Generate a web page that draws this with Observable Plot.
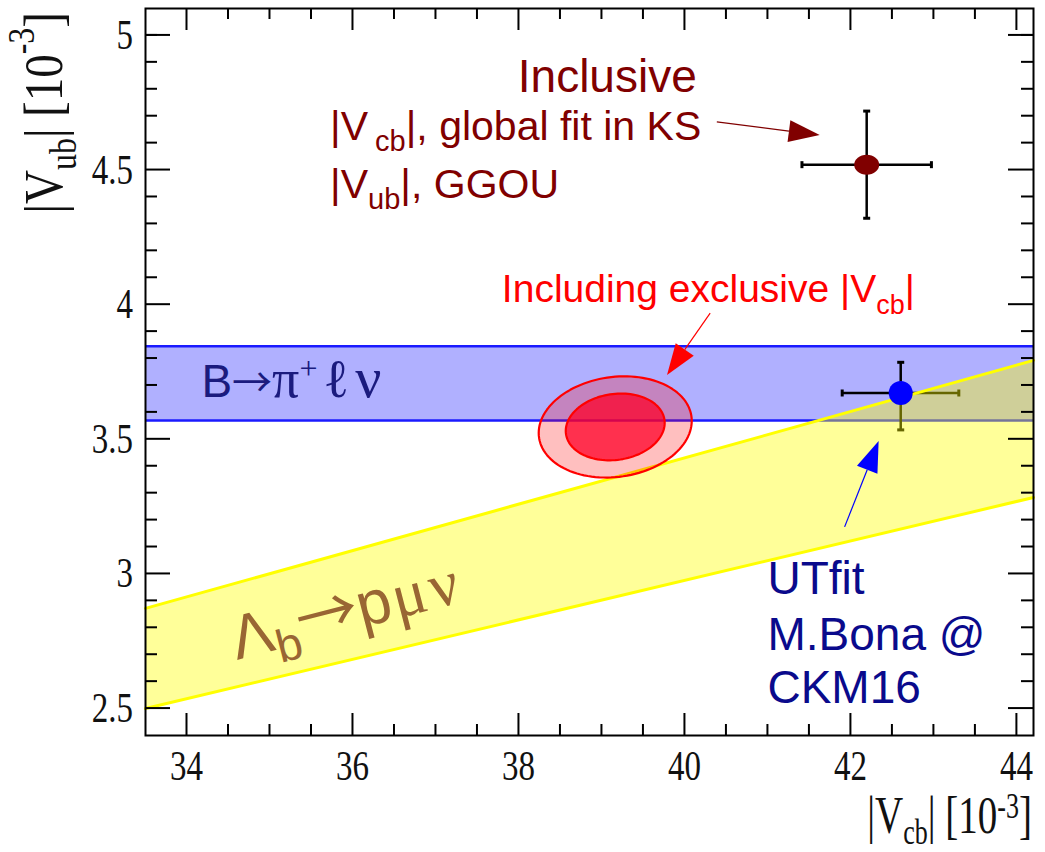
<!DOCTYPE html>
<html><head><meta charset="utf-8">
<script src="https://cdn.jsdelivr.net/npm/d3@7"></script>
<script src="https://cdn.jsdelivr.net/npm/@observablehq/plot@0.6"></script>
<style>body{margin:0;background:#fff;} #chart svg{display:block;}</style>
</head><body><div id="chart"></div>
<script>
// ---------------- data ----------------
const xDomain = [33.5, 44.2];
const yDomain = [2.4, 5.1];
const xMajorTicks = [34, 36, 38, 40, 42, 44];
const xTickLabels = ["34", "36", "38", "40", "42", "44"];
const xMinorTicks = [34.5, 35, 35.5, 36.5, 37, 37.5, 38.5, 39, 39.5, 40.5, 41, 41.5, 42.5, 43, 43.5];
const yMajorTicks = [2.5, 3, 3.5, 4, 4.5, 5];
const yTickLabels = ["2.5", "3", "3.5", "4", "4.5", "5"];
const yMinorTicks = [2.6, 2.7, 2.8, 2.9, 3.1, 3.2, 3.3, 3.4, 3.6, 3.7, 3.8, 3.9, 4.1, 4.2, 4.3, 4.4, 4.6, 4.7, 4.8, 4.9, 5.0];

// B -> pi l nu band (|Vub| range)
const bpilnuVub = [3.570, 3.846];
// Lambda_b -> p mu nu band (edges at the two plot ends)
const lambdaVcb = [33.5, 44.2];
const lambdaVubLow = [2.50, 3.284];
const lambdaVubHigh = [2.872, 3.793];

// exclusive fit contours
const fitCenterVcb = 39.16;
const fitCenterVub = 3.546;
const fitHalfWidthVcb = [0.922, 0.596];   // outer, inner
const fitHalfWidthVub = [0.188, 0.124];
const fitCorrelation = 0.12;

// inclusive point
const inclVcb = [42.19], inclVcbLo = [41.41], inclVcbHi = [42.97];
const inclVub = [4.52], inclVubLo = [4.321], inclVubHi = [4.719];
// UTfit point
const utVcb = [42.60], utVcbLo = [41.895], utVcbHi = [43.30];
const utVub = [3.672], utVubLo = [3.535], utVubHi = [3.786];

// annotation arrows (from -> to, data units)
const arrowFromVcb = [40.39, 40.31, 41.93];
const arrowFromVub = [4.677, 3.967, 3.173];
const arrowToVcb = [41.63, 39.79, 42.34];
const arrowToVub = [4.628, 3.737, 3.492];

// annotation texts
const textInclusive = "Inclusive";
const textInclVcb = ["|V", {t: "cb", sub: true}, "|, global fit in KS"];
const textInclVub = ["|V", {t: "ub", sub: true}, "|, GGOU"];
const textExcl = ["Including exclusive |V", {t: "cb", sub: true}, "|"];
const textUT = ["UTfit", "M.Bona @", "CKM16"];
const xTitle = ["|V", {t: "cb", sub: true}, "| [10", {t: "-3", sup: true}, "]"];
const yTitle = ["|V", {t: "ub", sub: true}, "| [10", {t: "-3", sup: true}, "]"];

// ---------------- derived tables ----------------
const lambdaBand = lambdaVcb.map((v, i) => ({vcb: v, lo: lambdaVubLow[i], hi: lambdaVubHigh[i]}));
function contour(k) {
  const pts = [];
  const n = 120;
  for (let i = 0; i < n; i++) {
    const t = 2 * Math.PI * i / n;
    pts.push({
      vcb: fitCenterVcb + fitHalfWidthVcb[k] * Math.cos(t),
      vub: fitCenterVub + fitHalfWidthVub[k] * (fitCorrelation * Math.cos(t) + Math.sqrt(1 - fitCorrelation ** 2) * Math.sin(t))
    });
  }
  return pts;
}
const outerContour = contour(0), innerContour = contour(1);
const incl = inclVcb.map((v, i) => ({vcb: v, vub: inclVub[i], x1: inclVcbLo[i], x2: inclVcbHi[i], y1: inclVubLo[i], y2: inclVubHi[i]}));
const ut = utVcb.map((v, i) => ({vcb: v, vub: utVub[i], x1: utVcbLo[i], x2: utVcbHi[i], y1: utVubLo[i], y2: utVubHi[i]}));

// custom symbols
const K = 0.5523;
const ellipseSym = {draw(ctx) {
  const rx = 12.5, ry = 10;
  ctx.moveTo(rx, 0);
  ctx.bezierCurveTo(rx, ry * K, rx * K, ry, 0, ry);
  ctx.bezierCurveTo(-rx * K, ry, -rx, ry * K, -rx, 0);
  ctx.bezierCurveTo(-rx, -ry * K, -rx * K, -ry, 0, -ry);
  ctx.bezierCurveTo(rx * K, -ry, rx, -ry * K, rx, 0);
  ctx.closePath();
}};
const capV = {draw(ctx) { ctx.moveTo(0, -3.5); ctx.lineTo(0, 3.5); }};
const capH = {draw(ctx) { ctx.moveTo(-3.5, 0); ctx.lineTo(3.5, 0); }};

function errorBars(data, color) {
  return [
    Plot.ruleY(data, {y: "vub", x1: "x1", x2: "x2", stroke: color, strokeWidth: 2.5}),
    Plot.ruleX(data, {x: "vcb", y1: "y1", y2: "y2", stroke: color, strokeWidth: 2.5}),
    Plot.dot(data, {x: "x1", y: "vub", symbol: capV, r: 3, stroke: color, fill: "none", strokeWidth: 3}),
    Plot.dot(data, {x: "x2", y: "vub", symbol: capV, r: 3, stroke: color, fill: "none", strokeWidth: 3}),
    Plot.dot(data, {x: "vcb", y: "y1", symbol: capH, r: 3, stroke: color, fill: "none", strokeWidth: 3}),
    Plot.dot(data, {x: "vcb", y: "y2", symbol: capH, r: 3, stroke: color, fill: "none", strokeWidth: 3})
  ];
}

function rich(g, px, py, parts, o) {
  const tr = `translate(${px},${py})` + (o.rotate ? ` rotate(${o.rotate})` : "") + (o.sy ? ` scale(1,${o.sy})` : "");
  const t = g.append("text")
    .attr("transform", tr)
    .attr("text-anchor", o.anchor || "start")
    .attr("font-family", o.family || "Liberation Sans")
    .attr("font-size", o.size)
    .attr("fill", o.fill)
    .style("white-space", "pre");
  let cur = 0;
  for (const p of parts) {
    const s = typeof p === "string" ? {t: p} : p;
    const ts = t.append("tspan").text(s.t);
    let shift = 0, size = s.size;
    if (s.sub) { shift = o.subDy; size = size || o.subSize; if (o.subDx) ts.attr("dx", o.subDx); }
    if (s.sup) { shift = o.supDy; size = size || o.subSize; }
    if (s.dy != null) shift = s.dy;
    if (shift !== cur) ts.attr("dy", shift - cur);
    cur = shift;
    if (size) ts.attr("font-size", size);
    if (s.family) ts.attr("font-family", s.family);
    if (s.dx) ts.attr("dx", s.dx);
  }
  return t;
}

function decorations(index, scales, values, dimensions) {
  const X = scales.x, Y = scales.y;
  const {width, height, marginLeft, marginRight, marginTop, marginBottom} = dimensions;
  const L = marginLeft, R = width - marginRight, T = marginTop, B = height - marginBottom;
  const g = d3.create("svg:g");

  // arrows
  const arrowColors = ["#800000", "#ff0000", "#0000ff"];
  arrowFromVcb.forEach((_, i) => {
    const x1 = X(arrowFromVcb[i]), y1 = Y(arrowFromVub[i]), x2 = X(arrowToVcb[i]), y2 = Y(arrowToVub[i]);
    const dx = x2 - x1, dy = y2 - y1, len = Math.hypot(dx, dy), ux = dx / len, uy = dy / len;
    const hl = 31, hw = 11;
    const bx = x2 - ux * hl, by = y2 - uy * hl;
    g.append("line").attr("x1", x1).attr("y1", y1).attr("x2", bx).attr("y2", by)
      .attr("stroke", arrowColors[i]).attr("stroke-width", 1.2);
    g.append("polygon")
      .attr("points", `${x2},${y2} ${bx - uy * hw},${by + ux * hw} ${bx + uy * hw},${by - ux * hw}`)
      .attr("fill", arrowColors[i]);
  });

  // annotation texts
  const dred = "#800000";
  rich(g, X(39.07), Y(4.788), [textInclusive], {size: 46, fill: dred, anchor: "middle"});
  rich(g, X(35.73), Y(4.610), textInclVcb, {size: 41, fill: dred, subSize: 29, subDy: 11, subDx: 7});
  rich(g, X(35.73), Y(4.394), textInclVub, {size: 41, fill: dred, subSize: 29, subDy: 11});
  rich(g, X(37.80), Y(4.008), textExcl, {size: 39, fill: "#ff0000", subSize: 27, subDy: 12});

  rich(g, X(34.18), Y(3.655), [
    "B",
    {t: "\u2192", family: "Noto Sans CJK JP", size: 40},
    {t: "\u03c0", family: "Liberation Serif", size: 54},
    {t: "+", dy: -18, size: 32, family: "Liberation Serif"},
    {t: "\u2113", dy: 0, family: "DejaVu Serif", size: 54, dx: 6},
    {t: "\u03bd", family: "Liberation Serif", size: 58, dx: 6}
  ], {size: 46, fill: "#1b1b7e"});

  rich(g, X(34.61), Y(2.679), [
    "\u039b",
    {t: "b", dy: 14, size: 46},
    {t: "\u2192", dy: 0, family: "Noto Sans CJK JP", size: 62},
    "p",
    {t: "\u03bc", family: "Liberation Serif", size: 64, dx: 2},
    {t: "\u03bd", family: "Liberation Serif", size: 64, dx: 4}
  ], {size: 62, fill: "#996633", rotate: -14.5});

  const utBase = [2.924, 2.716, 2.519];
  textUT.forEach((s, i) => rich(g, X(41.0), Y(utBase[i]), [s], {size: 46, fill: "#0a0a8c"}));

  // ticks (inward, all four sides)
  const line = (a, b, c, d) => g.append("line").attr("x1", a).attr("y1", b).attr("x2", c).attr("y2", d)
    .attr("stroke", "black").attr("stroke-width", 2);
  xMajorTicks.forEach(v => { const p = X(v); line(p, B, p, B - 22); line(p, T, p, T + 22); });
  xMinorTicks.forEach(v => { const p = X(v); line(p, B, p, B - 11); line(p, T, p, T + 11); });
  yMajorTicks.forEach(v => { const p = Y(v); line(L, p, L + 25, p); line(R, p, R - 25, p); });
  yMinorTicks.forEach(v => { const p = Y(v); line(L, p, L + 12, p); line(R, p, R - 12, p); });

  // tick labels (serif, tall)
  xMajorTicks.forEach((v, i) => rich(g, X(v), B + 45, [xTickLabels[i]],
    {size: 33, sy: 1.28, anchor: "middle", family: "Liberation Serif", fill: "#111"}));
  yMajorTicks.forEach((v, i) => rich(g, L - 12, Y(v) + 14, [yTickLabels[i]],
    {size: 33, sy: 1.28, anchor: "end", family: "Liberation Serif", fill: "#111"}));

  // axis titles
  rich(g, R - 1, height - 19, xTitle, {size: 39, sy: 1.36, anchor: "end", family: "Liberation Serif", fill: "#111",
    subSize: 26, subDy: 8, supDy: -11});
  rich(g, 62, T + 4, yTitle, {size: 47, sy: 1.18, anchor: "end", rotate: -90, family: "Liberation Serif", fill: "#111",
    subSize: 32, subDy: 12, supDy: -24});
  return g.node();
}

const chart = Plot.plot({
  width: 1045,
  height: 852,
  marginLeft: 145,
  marginRight: 12,
  marginTop: 8,
  marginBottom: 117,
  style: {background: "white"},
  x: {domain: xDomain, axis: null},
  y: {domain: yDomain, axis: null},
  marks: [
    Plot.rect([{x1: xDomain[0], x2: xDomain[1], y1: bpilnuVub[0], y2: bpilnuVub[1]}],
      {x1: "x1", x2: "x2", y1: "y1", y2: "y2", fill: "#0000ff", fillOpacity: 0.31}),
    Plot.ruleY(bpilnuVub, {stroke: "#1a1aff", strokeWidth: 2.5}),
    ...errorBars(ut, "black"),
    Plot.areaY(lambdaBand, {x: "vcb", y1: "lo", y2: "hi", fill: "#ffff00", fillOpacity: 0.4}),
    Plot.line(lambdaBand, {x: "vcb", y: "lo", stroke: "#ffff00", strokeWidth: 3}),
    Plot.line(lambdaBand, {x: "vcb", y: "hi", stroke: "#ffff00", strokeWidth: 3}),
    Plot.line(outerContour, {x: "vcb", y: "vub", curve: "linear-closed", fill: "#ff0000", fillOpacity: 0.25, stroke: "#ff0000", strokeWidth: 2.2}),
    Plot.line(innerContour, {x: "vcb", y: "vub", curve: "linear-closed", fill: "#ff0028", fillOpacity: 0.75, stroke: "#ff0000", strokeWidth: 2.2}),
    ...errorBars(incl, "black"),
    Plot.dot(incl, {x: "vcb", y: "vub", symbol: ellipseSym, r: 10, fill: "#800000", stroke: "none"}),
    Plot.dot(ut, {x: "vcb", y: "vub", r: 12, fill: "#0000ff", stroke: "none"}),
    decorations,
    Plot.frame({stroke: "black", strokeWidth: 2})
  ]
});
document.getElementById("chart").append(chart);
</script>
</body></html>
